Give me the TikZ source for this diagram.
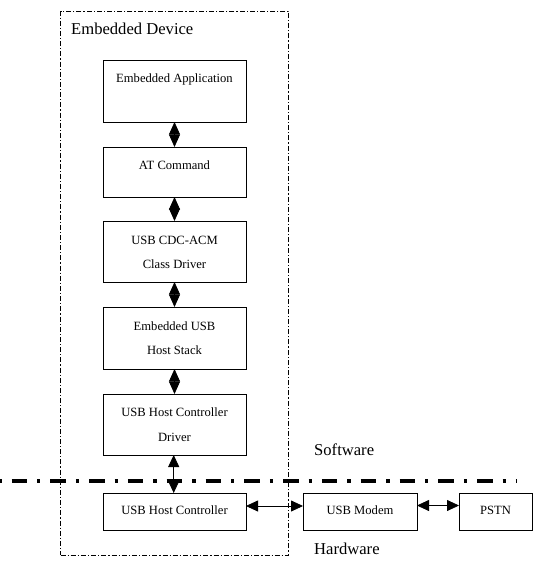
\documentclass[tikz,border=0pt]{standalone}
\usepackage{fontspec}
\setmainfont{Liberation Serif}
\usetikzlibrary{arrows.meta}
\begin{document}
\begin{tikzpicture}[x=1pt,y=-1pt,
  box/.style={draw, line width=0.9pt, minimum width=143pt, inner sep=0pt, outer sep=0pt},
  txt/.style={inner sep=0pt, font=\fontsize{12.6}{15}\selectfont, text height=8.6pt, text depth=2.6pt},
  big/.style={inner sep=0pt, anchor=west, font=\fontsize{16.6}{20}\selectfont},
  dia/.style={line width=0.8pt, {Triangle[length=12.5pt,width=11pt]}-{Triangle[length=12.5pt,width=11pt]}},
  arr/.style={line width=0.8pt, {Triangle[length=12pt,width=11pt]}-{Triangle[length=12pt,width=11pt]}},
  devbox/.style={draw, line width=0.7pt, dash pattern=on 5pt off 2pt on 1.2pt off 2pt, inner sep=0pt},
  sepline/.style={line width=4pt, dash pattern=on 15.5pt off 10pt on 3.3pt off 10pt, dash phase=27.3pt}
]
\useasboundingbox (0,0) rectangle (540,565);
% outer device box
\node[devbox, minimum width=228pt, minimum height=544pt] (dev) at (174.5,283) {};
\node[big] (devlbl) at (71,29) {Embedded Device};
% boxes
\node[box, minimum height=62pt] (b1) at (174.5,91) {};
\node[box, minimum height=50pt] (b2) at (174.5,172) {};
\node[box, minimum height=61pt] (b3) at (174.5,251.5) {};
\node[box, minimum height=62pt] (b4) at (174.5,338) {};
\node[box, minimum height=61pt] (b5) at (174.5,424.5) {};
\node[box, minimum height=37pt] (b6) at (174.5,511.5) {};
\node[box, minimum height=37pt, minimum width=114pt] (modem) at (360,511.5) {};
\node[box, minimum height=37pt, minimum width=73pt] (pstn) at (495.5,511.5) {};
% texts
\node[txt] (t1) at ([yshift=-19.5pt]b1.north) {Embedded Application};
\node[txt] (t2) at ([yshift=-19pt]b2.north) {AT Command};
\node[txt] (t3a) at ([yshift=-20.5pt]b3.north) {USB CDC-ACM};
\node[txt] (t3b) at ([yshift=-44.5pt]b3.north) {Class Driver};
\node[txt] (t4a) at ([yshift=-20pt]b4.north) {Embedded USB};
\node[txt] (t4b) at ([yshift=-44pt]b4.north) {Host Stack};
\node[txt] (t5a) at ([yshift=-19.5pt]b5.north) {USB Host Controller};
\node[txt] (t5b) at ([yshift=-44pt]b5.north) {Driver};
\node[txt] (t6) at (b6.center) {USB Host Controller};
\node[txt] (tm) at (modem.center) {USB Modem};
\node[txt] (tp) at (pstn.center) {PSTN};
% connectors
\draw[dia] (b1.south) -- (b2.north);
\draw[dia] (b2.south) -- (b3.north);
\draw[dia] (b3.south) -- (b4.north);
\draw[dia] (b4.south) -- (b5.north);
\draw[arr] ([xshift=-0.8pt]b5.south) -- ([xshift=-0.8pt]b6.north);
\draw[arr] ([yshift=5.5pt]b6.east) -- ([yshift=5.5pt]modem.west);
\draw[arr] ([yshift=6pt]modem.east) -- ([yshift=6pt]pstn.west);
% software / hardware separator
\coordinate (sepL) at (0,481);
\coordinate (sepR) at (517,481);
\draw[sepline] (sepL) -- (sepR);
\node[big] (sw) at (314,450) {Software};
\node[big] (hw) at (314,549) {Hardware};
\end{tikzpicture}
\end{document}
